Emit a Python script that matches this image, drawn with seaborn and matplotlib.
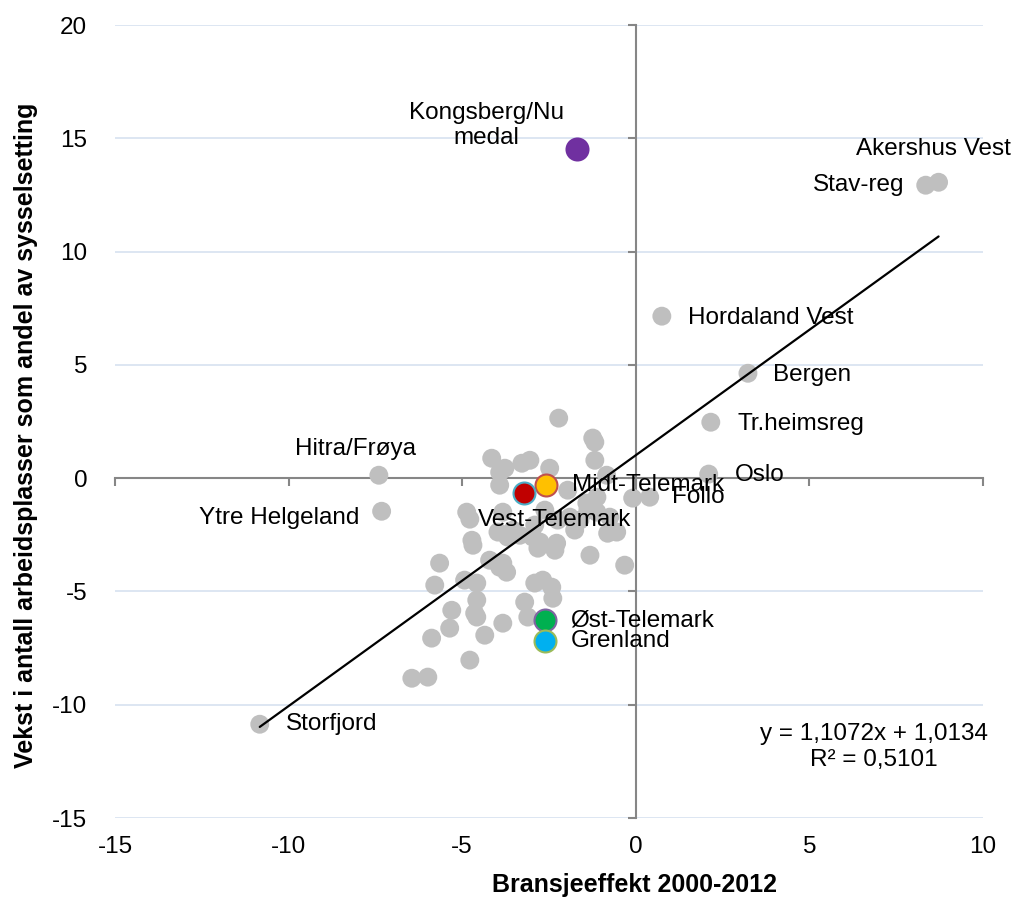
import matplotlib.pyplot as plt
import seaborn as sns

# Unlabelled regions (grey dots)
grey_x = [-2.22, -1.24, -1.18, -1.18, -4.15, -3.77, -3.28, -3.05, -2.48, -0.84,
          -3.92, -1.96, -0.09, -4.87, -4.78, -3.83, -1.41, -1.12, -0.81, -3.54,
          -2.97, -2.28, -2.82, -4.72, -4.69, -1.32, -0.32, -5.65, -4.21, -3.92,
          -3.72, -5.79, -4.93, -4.58, -2.91, -2.68, -2.42, -2.39, -4.58, -3.20,
          -5.30, -4.64, -4.58, -3.11, -3.83, -5.36, -4.35, -5.88, -4.78, -6.45,
          -5.99, -1.12, -1.38, -2.25, -3.92, -2.91, -2.76, -0.75, -0.55, -1.90,
          -1.61, -3.97, -3.69, -3.83, -3.34, -2.62, -1.76, -2.33]
grey_y = [2.65, 1.77, 1.59, 0.79, 0.88, 0.44, 0.66, 0.79, 0.44, 0.13,
          -0.31, -0.53, -0.88, -1.50, -1.81, -1.50, -1.10, -1.50, -2.43, -2.29,
          -2.60, -2.87, -3.09, -2.74, -2.96, -3.40, -3.84, -3.75, -3.62, -3.93,
          -4.15, -4.72, -4.50, -4.63, -4.63, -4.50, -4.81, -5.30, -5.38, -5.47,
          -5.83, -5.96, -6.13, -6.13, -6.40, -6.62, -6.93, -7.06, -8.03, -8.83,
          -8.78, -0.84, -1.41, -1.85, 0.26, -2.07, -2.82, -1.72, -2.38, -1.72,
          -1.85, -2.38, -2.60, -3.75, -2.52, -1.41, -2.29, -3.18]

# Labelled grey regions
grey_names = ['Akershus Vest', 'Stav-reg', 'Hordaland Vest', 'Bergen', 'Tr.heimsreg',
              'Oslo', 'Follo', 'Hitra/Frøya', 'Ytre Helgeland', 'Storfjord']
grey_lx = [8.72, 8.35, 0.75, 3.23, 2.16, 2.10, 0.40, -7.40, -7.32, -10.83]
grey_ly = [13.06, 12.93, 7.15, 4.63, 2.47, 0.18, -0.84, 0.13, -1.46, -10.86]

# Highlighted regions
hl_names = ['Kongsberg/Nu\nmedal', 'Midt-Telemark', 'Vest-Telemark', 'Øst-Telemark', 'Grenland']
hl_x = [-1.70, -2.59, -3.23, -2.62, -2.62]
hl_y = [14.52, -0.31, -0.66, -6.27, -7.19]
hl_fill = ['#7030A0', '#FFC000', '#C00000', '#00B050', '#00B0F0']
hl_edge = ['#7030A0', '#C0504D', '#4BACC6', '#8064A2', '#9BBB59']

# label offsets (points) and alignment
offsets = {
    'Akershus Vest': ((-4, 24), 'center'),
    'Stav-reg': ((-15, 0), 'right'),
    'Hordaland Vest': ((19, -1), 'left'),
    'Bergen': ((18, -1), 'left'),
    'Tr.heimsreg': ((19, -1), 'left'),
    'Oslo': ((19, -1), 'left'),
    'Follo': ((16, 0), 'left'),
    'Hitra/Frøya': ((-17, 19), 'center'),
    'Ytre Helgeland': ((-16, -5), 'right'),
    'Storfjord': ((19, 0), 'left'),
    'Kongsberg/Nu\nmedal': ((-65, 17), 'center'),
    'Midt-Telemark': ((19, 0), 'left'),
    'Vest-Telemark': ((22, -19), 'center'),
    'Øst-Telemark': ((18, 0), 'left'),
    'Grenland': ((19, 0), 'left'),
}

slope, intercept = 1.1072, 1.0134
r2 = 0.5101
x_ticks = [-15, -10, -5, 0, 5, 10]
y_ticks = [-15, -10, -5, 0, 5, 10, 15, 20]

sns.set_style('white')
plt.rcParams['font.family'] = ['Liberation Sans', 'DejaVu Sans']
plt.rcParams['axes.unicode_minus'] = False
plt.rcParams['text.color'] = 'black'
plt.rcParams['axes.labelcolor'] = 'black'
plt.rcParams['xtick.color'] = 'black'
plt.rcParams['ytick.color'] = 'black'

fig, ax = plt.subplots(figsize=(10.21, 9.13), dpi=100)
fig.subplots_adjust(left=0.1126, right=0.9628, bottom=0.104, top=0.9726)

sns.scatterplot(x=grey_x + grey_lx, y=grey_y + grey_ly, color='#BFBFBF', s=185,
                edgecolor='none', ax=ax, zorder=3, legend=False)

all_x = grey_x + grey_lx + hl_x
trend_x = [min(all_x), max(all_x)]
trend_y = [slope * v + intercept for v in trend_x]
sns.lineplot(x=trend_x, y=trend_y, color='black', linewidth=1.6, ax=ax, zorder=4)

for x, y, fc, ec in zip(hl_x, hl_y, hl_fill, hl_edge):
    sns.scatterplot(x=[x], y=[y], color=fc, edgecolor=ec, linewidth=1.5, s=250,
                    ax=ax, zorder=5, legend=False)

for names, xs, ys in [(grey_names, grey_lx, grey_ly), (hl_names, hl_x, hl_y)]:
    for n, x, y in zip(names, xs, ys):
        off, ha = offsets[n]
        ax.annotate(n, (x, y), xytext=off, textcoords='offset points', ha=ha,
                    va='center', fontsize=17.5, multialignment='center', zorder=6)

eq = f'y = {slope:.4f}x + {intercept:.4f}\nR² = {r2:.4f}'.replace('.', ',')
ax.text(6.85, -11.87, eq, ha='center', va='center', fontsize=17.5, linespacing=1.25)

ax.set_xlim(-15, 10)
ax.set_ylim(-15, 20)
ax.set_xticks(x_ticks)
ax.set_yticks(y_ticks)
ax.grid(axis='y', color='#DAE4F1', linewidth=1.3)
ax.set_axisbelow(True)

# axes crossing at zero
for side in ['top', 'right']:
    ax.spines[side].set_visible(False)
for side in ['left', 'bottom']:
    ax.spines[side].set_position(('data', 0))
    ax.spines[side].set_color('#868686')
    ax.spines[side].set_linewidth(1.5)
ax.tick_params(bottom=True, left=True, direction='out', length=6, width=1.5,
               color='#868686', labelbottom=False, labelleft=False)

# tick labels at the edges
secx = ax.secondary_xaxis(0)
secx.set_xticks(x_ticks)
secx.tick_params(bottom=False, length=0, pad=13, labelsize=17.5)
secx.spines['bottom'].set_visible(False)
secy = ax.secondary_yaxis(0)
secy.set_yticks(y_ticks)
secy.tick_params(left=False, length=0, pad=20, labelsize=17.5)
secy.spines['left'].set_visible(False)

ax.set_xlabel('Bransjeeffekt 2000-2012', fontsize=18, fontweight='bold')
ax.xaxis.set_label_coords(0.599, -0.069)
ax.set_ylabel('Vekst i antall arbeidsplasser som andel av sysselsetting',
              fontsize=18, fontweight='bold')
ax.yaxis.set_label_coords(-0.0887, 0.483)

fig.savefig('out.png', dpi=100)
